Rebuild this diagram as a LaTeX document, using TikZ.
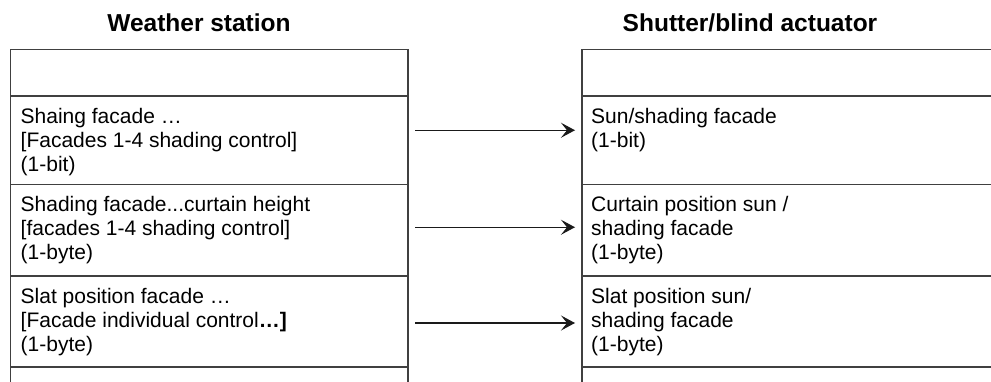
\documentclass[tikz,border=0pt]{standalone}
\usepackage{fontspec}
\setmainfont{Liberation Sans}
\usetikzlibrary{positioning,arrows.meta}
\definecolor{StationLine}{HTML}{404040}
\definecolor{StationArrow}{HTML}{1A1A1A}
\definecolor{StationText}{HTML}{000000}

\begin{document}
\begin{tikzpicture}[x=1pt,y=1pt,
    cell/.style={draw=StationLine,line width=1.2pt,inner sep=0pt,outer sep=0pt,minimum width=397.5pt},
    cellR/.style={cell,minimum width=420pt},
    celltext/.style={anchor=north west,align=left,inner sep=0pt,text=StationText,font=\fontsize{21}{24}\selectfont},
    heading/.style={text=StationText,font=\bfseries\fontsize{24.5}{28}\selectfont},
    link/.style={draw=StationArrow,line width=1.1pt,-{Stealth[length=14pt,width=15pt,inset=6pt]}}]
  \path[use as bounding box,clip] (0,0) rectangle (991,381);
  % titles
  \node[heading] (wsh) at (199,358) {Weather station};
  \node[heading] (sah) at (750,358) {Shutter/blind actuator};
  % weather station objects
  \node[cell,minimum height=46.5pt,anchor=north west] (ws0) at (10.5,331.5) {};
  \node[cell,minimum height=88.5pt,below=0pt of ws0] (ws1) {};
  \node[cell,minimum height=91.5pt,below=0pt of ws1] (ws2) {};
  \node[cell,minimum height=91pt,below=0pt of ws2] (ws3) {};
  \node[cell,minimum height=30pt,below=0pt of ws3] (ws4) {};
  % actuator objects
  \node[cellR,minimum height=46.5pt,anchor=north west] (sa0) at (582,331.5) {};
  \node[cellR,minimum height=88.5pt,below=0pt of sa0] (sa1) {};
  \node[cellR,minimum height=91.5pt,below=0pt of sa1] (sa2) {};
  \node[cellR,minimum height=91pt,below=0pt of sa2] (sa3) {};
  \node[cellR,minimum height=30pt,below=0pt of sa3] (sa4) {};
  % texts
  \node[celltext] (ws1t) at ([xshift=10pt,yshift=-12pt]ws1.north west) {Shaing facade …\\{[}Facades 1-4 shading control]\\(1-bit)};
  \node[celltext] (ws2t) at ([xshift=10pt,yshift=-12pt]ws2.north west) {Shading facade...curtain height\\{[}facades 1-4 shading control]\\(1-byte)};
  \node[celltext] (ws3t) at ([xshift=10pt,yshift=-12pt]ws3.north west) {Slat position facade …\\{[}Facade individual control\textbf{…]}\\(1-byte)};
  \node[celltext] (sa1t) at ([xshift=9pt,yshift=-12pt]sa1.north west) {Sun/shading facade\\(1-bit)};
  \node[celltext] (sa2t) at ([xshift=9pt,yshift=-12pt]sa2.north west) {Curtain position sun /\\shading facade\\(1-byte)};
  \node[celltext] (sa3t) at ([xshift=9pt,yshift=-12pt]sa3.north west) {Slat position sun/\\shading facade\\(1-byte)};
  % group addresses
  \draw[link] ([xshift=7pt,yshift=10pt]ws1.east) -- ([xshift=-7pt,yshift=10pt]sa1.west);
  \draw[link] ([xshift=7pt,yshift=3pt]ws2.east) -- ([xshift=-7pt,yshift=3pt]sa2.west);
  \draw[link] ([xshift=7pt,yshift=-1.5pt]ws3.east) -- ([xshift=-7pt,yshift=-1.5pt]sa3.west);
\end{tikzpicture}
\end{document}
